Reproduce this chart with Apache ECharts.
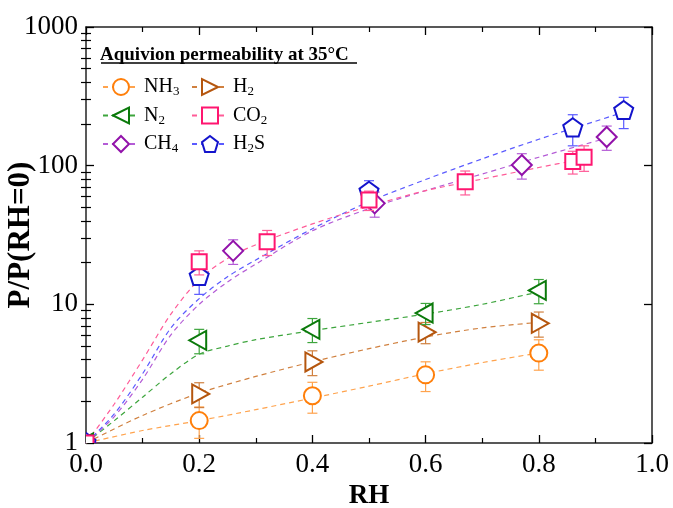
<!DOCTYPE html>
<html>
<head>
<meta charset="utf-8">
<script src="https://cdn.jsdelivr.net/npm/echarts@6/dist/echarts.min.js"></script>
<style>
html, body { margin: 0; padding: 0; background: #fff; }
#main { width: 673px; height: 508px; }
</style>
</head>
<body>
<div id="main"></div>
<script>
// values (P/P(RH=0) vs RH), error bars as +/- absolute
let nh3RH = [0, 0.2, 0.4, 0.6, 0.8];
let nh3Val = [1, 1.45, 2.19, 3.1, 4.45];
let nh3Err = [0, 0.37, 0.55, 0.75, 1.1];
let nh3FitRH = [0, 0.1, 0.2, 0.3, 0.4, 0.5, 0.6, 0.7, 0.8];
let nh3FitVal = [1, 1.23, 1.45, 1.74, 2.11, 2.57, 3.16, 3.8, 4.46];

let h2RH = [0, 0.2, 0.4, 0.6, 0.8];
let h2Val = [1, 2.26, 3.84, 6.3, 7.3];
let h2Err = [0, 0.46, 0.78, 1.1, 1.5];
let h2FitRH = [0, 0.1, 0.2, 0.3, 0.4, 0.5, 0.6, 0.7, 0.8];
let h2FitVal = [1, 1.58, 2.29, 3.02, 3.85, 4.79, 5.82, 6.76, 7.41];

let n2RH = [0, 0.2, 0.4, 0.6, 0.8];
let n2Val = [1, 5.5, 6.6, 8.65, 12.6];
let n2Err = [0, 1.1, 1.3, 1.5, 2.5];
let n2FitRH = [0, 0.05, 0.1, 0.15, 0.2, 0.25, 0.3, 0.4, 0.5, 0.6, 0.7, 0.8];
let n2FitVal = [1, 1.45, 2.14, 3.16, 4.37, 5.0, 5.56, 6.46, 7.41, 8.51, 10, 12.3];

let co2RH = [0, 0.2, 0.32, 0.5, 0.67, 0.86, 0.88];
let co2Val = [1, 20.3, 28.3, 56.5, 76.5, 107, 115];
let co2Err = [0, 4, 5.8, 9, 15, 20, 24];
let co2FitRH = [0, 0.05, 0.1, 0.15, 0.2, 0.25, 0.3, 0.4, 0.5, 0.6, 0.7, 0.8, 0.88];
let co2FitVal = [1, 1.91, 3.98, 8.5, 15.1, 21.4, 26.9, 38, 51, 66, 80, 97, 112];

let ch4RH = [0, 0.26, 0.51, 0.77, 0.92];
let ch4Val = [1, 24.3, 53.5, 101, 161];
let ch4Err = [0, 4.9, 11, 21, 32];
let ch4FitRH = [0, 0.05, 0.1, 0.15, 0.2, 0.25, 0.3, 0.4, 0.5, 0.6, 0.7, 0.8, 0.92];
let ch4FitVal = [1, 1.55, 2.88, 6.03, 10, 14.5, 19.5, 33.9, 49, 66.1, 87.1, 115, 158];

let h2sRH = [0, 0.2, 0.5, 0.86, 0.95];
let h2sVal = [1, 15.8, 64.9, 186, 248];
let h2sErr = [0, 4, 13, 47, 63];
let h2sFitRH = [0, 0.05, 0.1, 0.15, 0.2, 0.25, 0.3, 0.4, 0.5, 0.6, 0.7, 0.8, 0.9, 0.95];
let h2sFitVal = [1, 1.62, 3.16, 6.76, 11, 15.8, 20.9, 35.1, 55, 79.4, 112, 155, 209, 243];

let yDecades = [1, 10, 100];
let minorSteps = [2, 3, 4, 5, 6, 7, 8, 9];

let serif = 'Liberation Serif';
let pentagonPath = 'path://M0,-10L9.51,-3.09L5.88,8.09L-5.88,8.09L-9.51,-3.09Z';

let gases = [
    { name: 'NH3', rh: nh3RH, val: nh3Val, err: nh3Err, fitRH: nh3FitRH, fitVal: nh3FitVal, mark: '#ff7f0a', line: '#ffa34d', shape: 'circle', symbol: 'circle', rotate: 0 },
    { name: 'H2', rh: h2RH, val: h2Val, err: h2Err, fitRH: h2FitRH, fitVal: h2FitVal, mark: '#b5560e', line: '#d0803f', shape: 'triR', symbol: 'triangle', rotate: -90 },
    { name: 'N2', rh: n2RH, val: n2Val, err: n2Err, fitRH: n2FitRH, fitVal: n2FitVal, mark: '#0b7a0b', line: '#3da53d', shape: 'triL', symbol: 'triangle', rotate: 90 },
    { name: 'CH4', rh: ch4RH, val: ch4Val, err: ch4Err, fitRH: ch4FitRH, fitVal: ch4FitVal, mark: '#9212aa', line: '#b45cd6', shape: 'diamond', symbol: 'diamond', rotate: 0 },
    { name: 'H2S', rh: h2sRH, val: h2sVal, err: h2sErr, fitRH: h2sFitRH, fitVal: h2sFitVal, mark: '#1414cc', line: '#5a5aff', shape: 'pentagon', symbol: pentagonPath, rotate: 0 },
    { name: 'CO2', rh: co2RH, val: co2Val, err: co2Err, fitRH: co2FitRH, fitVal: co2FitVal, mark: '#ff1670', line: '#ff5c98', shape: 'rect', symbol: 'rect', rotate: 0 }
];

// minor log ticks, in exponent space for the helper axes
let minorExp = [];
yDecades.forEach(function (d) {
    minorSteps.forEach(function (m) { minorExp.push(Math.log10(d * m)); });
});

function markerShape(kind, cx, cy, stroke) {
    let style = { fill: '#fff', stroke: stroke, lineWidth: 2 };
    if (kind === 'circle') return { type: 'circle', shape: { cx: cx, cy: cy, r: 8.5 }, style: style };
    if (kind === 'rect') return { type: 'rect', shape: { x: cx - 7.5, y: cy - 7.5, width: 15, height: 15 }, style: style };
    let pts;
    if (kind === 'triR') pts = [[cx + 10, cy], [cx - 7, cy - 9.5], [cx - 7, cy + 9.5]];
    if (kind === 'triL') pts = [[cx - 10, cy], [cx + 7, cy - 9.5], [cx + 7, cy + 9.5]];
    if (kind === 'diamond') pts = [[cx, cy - 10], [cx + 10, cy], [cx, cy + 10], [cx - 10, cy]];
    if (kind === 'pentagon') {
        pts = [0, 1, 2, 3, 4].map(function (k) {
            let a = -Math.PI / 2 + k * 2 * Math.PI / 5;
            return [cx + 10 * Math.cos(a), cy + 10 * Math.sin(a)];
        });
    }
    return { type: 'polygon', shape: { points: pts }, style: style };
}

function makeRenderer(g) {
    return function (params, api) {
        let x = api.value(0), y = api.value(1), e = api.value(2);
        let c = api.coord([x, y]);
        let cs = params.coordSys;
        let children = [];
        if (e > 0) {
            let hi = api.coord([x, y + e]);
            let lo = api.coord([x, y - e]);
            let ls = { stroke: g.line, lineWidth: 1.2 };
            children.push({ type: 'line', shape: { x1: c[0], y1: hi[1], x2: c[0], y2: lo[1] }, style: ls });
            children.push({ type: 'line', shape: { x1: c[0] - 5, y1: hi[1], x2: c[0] + 5, y2: hi[1] }, style: ls });
            children.push({ type: 'line', shape: { x1: c[0] - 5, y1: lo[1], x2: c[0] + 5, y2: lo[1] }, style: ls });
        }
        let m = markerShape(g.shape, c[0], c[1], g.mark);
        m.clipPath = { type: 'rect', shape: { x: cs.x, y: cs.y, width: cs.width, height: cs.height } };
        children.push(m);
        return { type: 'group', children: children };
    };
}

let series = [];
gases.forEach(function (g) {
    series.push({
        name: g.name,
        type: 'line',
        smooth: 0.3,
        showSymbol: false,
        symbol: g.symbol,
        symbolRotate: g.rotate,
        symbolSize: 16,
        silent: true,
        z: 2,
        itemStyle: { color: '#fff', borderColor: g.mark, borderWidth: 2 },
        lineStyle: { color: g.line, width: 1.2, type: [5, 4] },
        data: g.fitRH.map(function (x, i) { return [x, g.fitVal[i]]; })
    });
});
gases.forEach(function (g) {
    series.push({
        name: g.name + ' data',
        type: 'custom',
        clip: true,
        silent: true,
        z: 3,
        renderItem: makeRenderer(g),
        data: g.rh.map(function (x, i) { return [x, g.val[i], g.err[i]]; })
    });
});

let legendText = {
    fontFamily: serif, fontSize: 20, color: '#000',
    rich: { s: { fontFamily: serif, fontSize: 13, color: '#000', padding: [10, 0, 0, 0] } }
};
function legendFmt(name) { return name.replace(/(\d)/g, '{s|$1}'); }

let xTick = { inside: true, length: 8, lineStyle: { color: '#000', width: 1.3 } };
let xMinor = { show: true, splitNumber: 2, length: 5, lineStyle: { color: '#000', width: 1.2 } };
let axisLine = { onZero: false, lineStyle: { color: '#222', width: 1.5 } };

let option = {
    backgroundColor: '#fff',
    animation: false,
    grid: { left: 86, right: 21, top: 27, bottom: 65, containLabel: false, outerBoundsMode: 'none' },
    graphic: [
        { type: 'text', left: 100, top: 46, style: { text: 'Aquivion permeability at 35°C', font: 'bold 19px "Liberation Serif"', fill: '#000' } },
        { type: 'line', shape: { x1: 101, y1: 63, x2: 357, y2: 63 }, style: { stroke: '#000', lineWidth: 1.3 } }
    ],
    legend: [
        {
            orient: 'vertical', left: 97, top: 72, itemWidth: 36, itemHeight: 20, itemGap: 7,
            selectedMode: false, data: ['NH3', 'N2', 'CH4'], formatter: legendFmt, textStyle: legendText
        },
        {
            orient: 'vertical', left: 186, top: 72, itemWidth: 36, itemHeight: 20, itemGap: 7,
            selectedMode: false, data: ['H2', 'CO2', 'H2S'], formatter: legendFmt, textStyle: legendText
        }
    ],
    xAxis: [
        {
            type: 'value', min: 0, max: 1, interval: 0.2, position: 'bottom',
            name: 'RH', nameLocation: 'middle', nameGap: 37,
            nameTextStyle: { fontFamily: serif, fontSize: 27, fontWeight: 'bold', color: '#000' },
            axisLine: axisLine, axisTick: xTick, minorTick: xMinor, splitLine: { show: false },
            axisLabel: { fontFamily: serif, fontSize: 27, color: '#000', margin: 8, formatter: function (v) { return v.toFixed(1); } }
        },
        {
            type: 'value', min: 0, max: 1, interval: 0.2, position: 'top',
            axisLine: axisLine, axisTick: xTick, minorTick: xMinor, splitLine: { show: false },
            axisLabel: { show: false }
        }
    ],
    yAxis: [
        {
            type: 'log', logBase: 10, min: 1, max: 1000, position: 'left',
            name: 'P/P(RH=0)', nameLocation: 'middle', nameGap: 50, nameMoveOverlap: false,
            nameTextStyle: { fontFamily: serif, fontSize: 31, fontWeight: 'bold', color: '#000' },
            axisLine: axisLine, axisTick: xTick, splitLine: { show: false },
            axisLabel: { fontFamily: serif, fontSize: 27, color: '#000', margin: 8, formatter: function (v) { return String(v); } }
        },
        {
            type: 'log', logBase: 10, min: 1, max: 1000, position: 'right',
            axisLine: axisLine, axisTick: xTick, splitLine: { show: false },
            axisLabel: { show: false }
        },
        {
            type: 'value', min: 0, max: 3, position: 'left',
            axisLine: { show: false }, splitLine: { show: false },
            axisTick: { inside: true, length: 5, customValues: minorExp, lineStyle: { color: '#000', width: 1.2 } },
            axisLabel: { show: false }
        },
        {
            type: 'value', min: 0, max: 3, position: 'right',
            axisLine: { show: false }, splitLine: { show: false },
            axisTick: { inside: true, length: 5, customValues: minorExp, lineStyle: { color: '#000', width: 1.2 } },
            axisLabel: { show: false }
        }
    ],
    series: series
};

let chart = echarts.init(document.getElementById('main'));
chart.setOption(option);
</script>
</body>
</html>
